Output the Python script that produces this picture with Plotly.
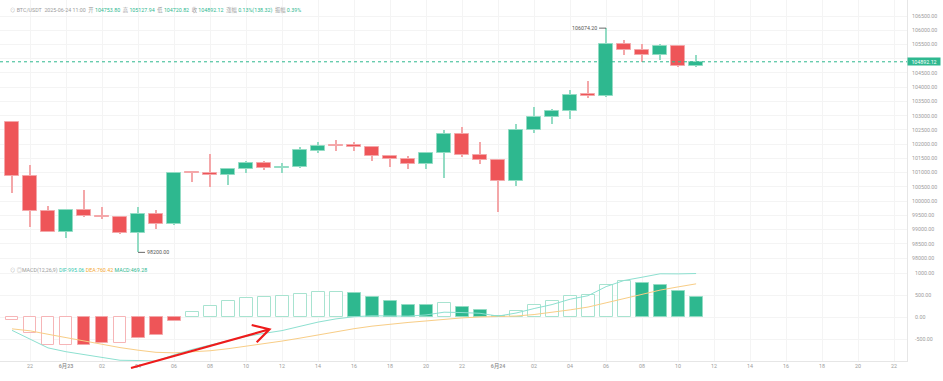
import pandas as pd
import plotly.graph_objects as go
from plotly.subplots import make_subplots

# ---------------- data ----------------
times = pd.date_range('2025-06-22 21:00', periods=39, freq='h')

opens = [102768, 100882, 99654, 98916, 99689, 99489, 99443, 98892, 99548, 99186,
         101010, 100977, 100907, 101118, 101328, 101174, 101200, 101771, 101965, 101960,
         101901, 101574, 101490, 101293, 101690, 102346, 101620, 101434, 100696, 102487,
         102943, 103154, 103751, 103681, 105527, 105317, 105120, 105457, 104753.80]
highs = [102824, 101269, 99840, 99713, 100391, 99794, 99480, 99784, 99689, 101012,
         101047, 101644, 101140, 101409, 101398, 101328, 101911, 102076, 102146, 102076,
         101910, 101590, 101585, 101700, 102497, 102613, 102066, 101460, 102698, 103305,
         103235, 103912, 104218, 106074.20, 105657, 105506, 105506, 105470, 105127.94]
lows = [100296, 99102, 98900, 98716, 99432, 99383, 98835, 98200, 99032, 99170,
        100682, 100507, 100577, 100977, 101093, 100998, 101180, 101679, 101771, 101750,
        101409, 101209, 101118, 101139, 100812, 101539, 101314, 99629, 100521, 102403,
        102698, 102894, 103632, 103670, 105120, 104896, 104966, 104720, 104720.82]
closes = [100882, 99654, 98916, 99689, 99489, 99443, 98892, 99548, 99186, 100988,
          100977, 100907, 101118, 101328, 101174, 101200, 101795, 101946, 101950, 101890,
          101574, 101490, 101293, 101690, 102346, 101620, 101434, 100696, 102497, 102943,
          103154, 103737, 103681, 105517, 105317, 105120, 105457, 104753.80, 104892.12]

macd_hist = [-68, -363, -620, -636, -620, -585, -592, -470, -394, -91,
             121, 258, 363, 447, 470, 477, 537, 583, 583, 545,
             470, 379, 288, 273, 318, 242, 167, 30, 136, 273,
             363, 485, 515, 742, 818, 773, 742, 591, 469.28]
hist_filled = [0, 0, 0, 0, 1, 1, 0, 1, 1, 1,
               0, 0, 0, 0, 0, 0, 0, 0, 0, 1,
               1, 1, 1, 1, 0, 1, 1, 1, 0, 0,
               0, 0, 0, 0, 0, 1, 1, 1, 1]
dif = [-296, -489, -695, -782, -852, -911, -976, -982, -993, -853,
       -732, -631, -533, -435, -365, -302, -205, -109, -36, 13,
       35, 36, 27, 54, 116, 108, 91, 27, 97, 199,
       290, 411, 491, 697, 837, 911, 989, 987, 995.06]
dea = [-262, -307, -385, -464, -542, -616, -688, -747, -796, -807,
       -792, -760, -714, -659, -600, -540, -473, -400, -327, -259,
       -201, -153, -117, -83, -43, -13, 8, 12, 29, 63,
       108, 169, 233, 326, 428, 525, 618, 691, 760.42]

tick_times = pd.date_range('2025-06-22 22:00', '2025-06-24 22:00', freq='2h')
tick_text = ['22', '<b>6月23</b>', '02', '04', '06', '08', '10', '12', '14', '16', '18', '20', '22',
             '<b>6月24</b>', '02', '04', '06', '08', '10', '12', '14', '16', '18', '20', '22']
price_ticks = list(range(98000, 106501, 500))
macd_ticks = [-500, 0, 500, 1000]

last_price = 104892.12
high_mark = 106074.20
low_mark = 98200.00

# ---------------- style ----------------
GREEN = '#2eb88f'
GREEN_L = '#93dcc4'
RED = '#ee5558'
RED_L = '#f4a7a9'
GRID = '#f4f4f4'
AX = '#e6e6e6'
TXT = '#9c9c9c'
FONT = "Roboto, 'Noto Sans CJK SC', sans-serif"
FS = 5.3
HOUR = 3600000

up = [c >= o for o, c in zip(opens, closes)]

fig = make_subplots(rows=2, cols=1, shared_xaxes=True, vertical_spacing=0,
                    row_heights=[262 / 361, 99 / 361])

# wicks
fig.add_trace(go.Bar(x=times, y=[h - l for h, l in zip(highs, lows)], base=lows,
                     width=0.06 * HOUR,
                     marker=dict(color=[GREEN_L if u else RED_L for u in up], line=dict(width=0)),
                     hoverinfo='skip'), row=1, col=1)
# bodies
fig.add_trace(go.Bar(x=times, y=[abs(c - o) for o, c in zip(opens, closes)],
                     base=[min(o, c) for o, c in zip(opens, closes)],
                     width=0.76 * HOUR,
                     marker=dict(color=[GREEN if u else RED for u in up],
                                 line=dict(width=1, color=[GREEN_L if u else RED_L for u in up])),
                     hoverinfo='skip'), row=1, col=1)

# MACD histogram
hcol, hline = [], []
for v, f in zip(macd_hist, hist_filled):
    pos = v >= 0
    if f:
        hcol.append(GREEN if pos else RED)
        hline.append(GREEN_L if pos else RED_L)
    else:
        hcol.append('white')
        hline.append('#a8e3d0' if pos else '#f6b5b7')
fig.add_trace(go.Bar(x=times, y=macd_hist, width=0.72 * HOUR,
                     marker=dict(color=hcol, line=dict(width=1, color=hline)),
                     hoverinfo='skip'), row=2, col=1)
fig.add_trace(go.Scatter(x=times, y=dea, mode='lines', line=dict(color='#f8cd86', width=1),
                         hoverinfo='skip'), row=2, col=1)
fig.add_trace(go.Scatter(x=times, y=dif, mode='lines', line=dict(color='#8de0d0', width=1),
                         hoverinfo='skip'), row=2, col=1)

xr = ['2025-06-22 20:20', '2025-06-24 22:43']
for r in (1, 2):
    fig.update_xaxes(row=r, col=1, type='date', range=xr, tickmode='array',
                     tickvals=tick_times, ticktext=tick_text, showgrid=True, gridcolor=GRID,
                     gridwidth=1, zeroline=False, showline=(r == 2), linecolor=AX,
                     ticks='', tickfont=dict(size=FS, color=TXT, family=FONT),
                     automargin=False, fixedrange=True)
fig.update_xaxes(row=1, col=1, showticklabels=False)

# the 105000 label sits under the last-price badge in the reference
price_labels = ['' if v == 105000 else f'{v:.2f}' for v in price_ticks]
fig.update_yaxes(row=1, col=1, side='right', range=[97862, 107062], tickmode='array',
                 tickvals=price_ticks, ticktext=price_labels,
                 showgrid=True, gridcolor=GRID, zeroline=False, showline=True, linecolor=AX,
                 ticks='', ticklabelstandoff=3,
                 tickfont=dict(size=FS, color=TXT, family=FONT), automargin=False)
fig.update_yaxes(row=2, col=1, side='right', range=[-993, 1257], tickmode='array',
                 tickvals=macd_ticks, ticktext=[f'{v:.2f}' for v in macd_ticks],
                 showgrid=True, gridcolor=GRID, zeroline=False, showline=True, linecolor=AX,
                 ticks='', ticklabelstandoff=6,
                 tickfont=dict(size=FS, color=TXT, family=FONT), automargin=False)

# last price line + label
fig.add_shape(type='line', xref='paper', x0=0, x1=1, yref='y', y0=last_price, y1=last_price,
              line=dict(color=GREEN, width=1, dash='dot'))
fig.add_annotation(xref='paper', x=1, yref='y', y=last_price, text=f'{last_price:.2f}',
                   showarrow=False, xanchor='left', yanchor='middle', bgcolor=GREEN,
                   font=dict(size=FS, color='white', family=FONT), width=32, height=7, borderpad=0)

# high / low markers
fig.add_annotation(x=times[33], y=high_mark, xref='x', yref='y', text=f'{high_mark:.2f}',
                   showarrow=True, arrowhead=0, arrowwidth=0.8, arrowcolor='#444', ax=-7, ay=0,
                   xanchor='right', font=dict(size=FS, color='#555', family=FONT))
fig.add_annotation(x=times[7], y=low_mark, xref='x', yref='y', text=f'{low_mark:.2f}',
                   showarrow=True, arrowhead=0, arrowwidth=0.8, arrowcolor='#444', ax=7, ay=0,
                   xanchor='left', font=dict(size=FS, color='#555', family=FONT))

# header
G = TXT
def s(t, c):
    return f"<span style='color:{c}'>{t}</span>"
sp = '&nbsp;&nbsp;'
header = (s('⊙', '#b0b0b0') + '&nbsp;' + s('BTC/USDT', G) + sp + s('2025-06-24 11:00', G) + sp +
          s('开 ', G) + s(f'{opens[-1]:.2f}', GREEN) + sp + s('高 ', G) + s(f'{highs[-1]:.2f}', GREEN) + sp +
          s('低 ', G) + s(f'{lows[-1]:.2f}', GREEN) + sp + s('收 ', G) + s(f'{closes[-1]:.2f}', GREEN) + sp +
          s('涨幅 ', G) + s('0.13%(138.32)', GREEN) + sp + s('振幅 ', G) + s('0.39%', GREEN))
fig.add_annotation(xref='paper', yref='paper', x=8 / 907, y=(361 - 10) / 361, text=header,
                   showarrow=False, xanchor='left', yanchor='middle',
                   font=dict(size=FS, family=FONT, color=G))

macd_lbl = (s('⊙', '#b0b0b0') + '&nbsp;' + s('◎', '#b0b0b0') + s('MACD(12,26,9)', G) + '&nbsp;' +
            s(f'DIF:{dif[-1]:.2f}', '#38c9b0') + '&nbsp;' + s(f'DEA:{dea[-1]:.2f}', '#f3a834') + '&nbsp;' +
            s(f'MACD:{macd_hist[-1]:.2f}', GREEN))
fig.add_annotation(xref='paper', yref='paper', x=8 / 907, y=(361 - 270) / 361, text=macd_lbl,
                   showarrow=False, xanchor='left', yanchor='middle',
                   font=dict(size=FS, family=FONT, color=G))

# red hand-drawn arrow
def P(px, py):
    return f'{px / 907:.5f},{(361 - py) / 361:.5f}'
path = (f'M {P(131, 368)} L {P(269.5, 329.3)} '
        f'M {P(251.7, 325)} L {P(269.5, 329.3)} L {P(256.7, 342.3)}')
fig.add_shape(type='path', xref='paper', yref='paper', path=path,
              line=dict(color='#ee1b1b', width=2.2), layer='above')

fig.update_layout(width=943, height=381, margin=dict(l=0, r=36, t=0, b=20),
                  paper_bgcolor='white', plot_bgcolor='white', showlegend=False,
                  barmode='overlay', bargap=0, hovermode=False,
                  font=dict(family=FONT, size=FS, color=TXT))

fig.write_html('out.html', config={'displayModeBar': False},
               post_script="document.body.style.margin='0px';document.body.style.padding='0px';")
